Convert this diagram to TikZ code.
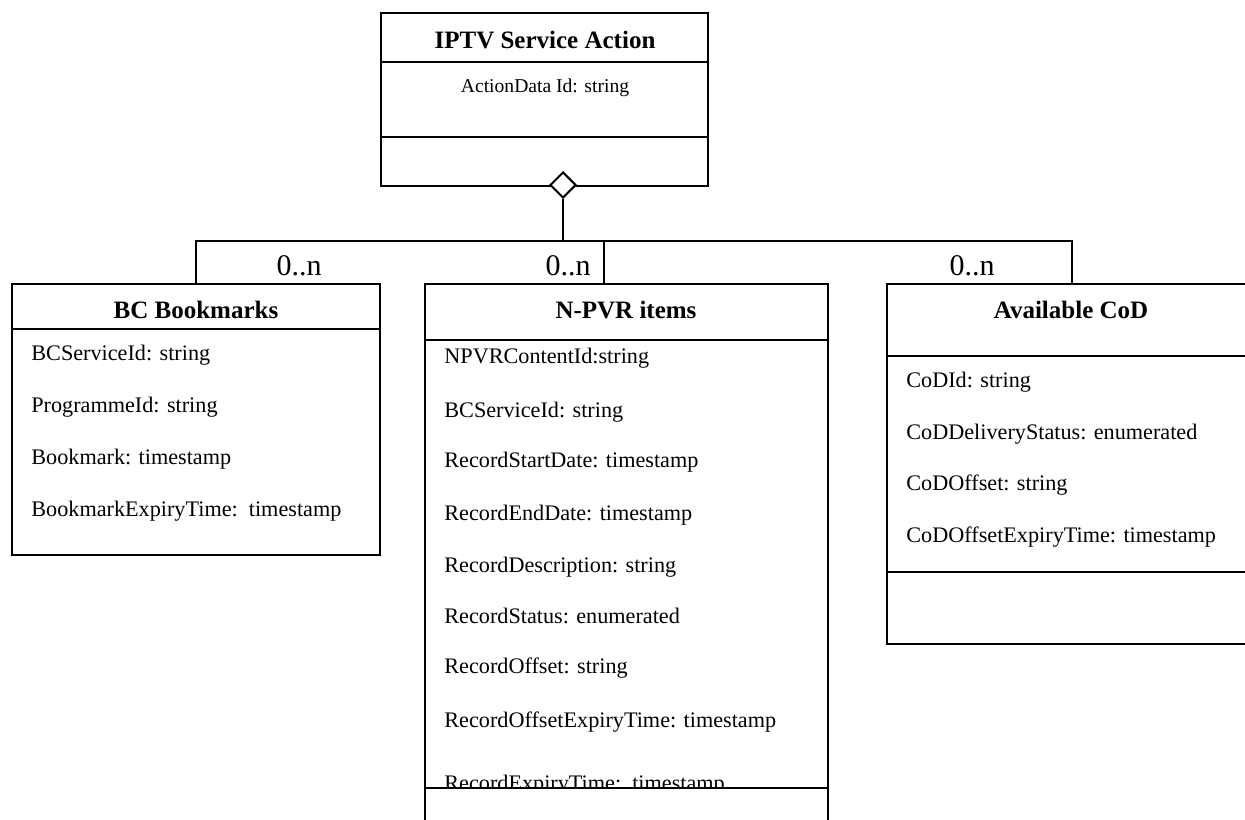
\documentclass[tikz,border=0pt]{standalone}
\usepackage{fontspec}
\setmainfont{Liberation Serif}
\usetikzlibrary{positioning,shapes.geometric}
\newdimen\px \px=0.5pt

\begin{document}
\begin{tikzpicture}[
    x=0.5pt, y=-0.5pt,
    box/.style={draw, line width=1pt, inner sep=0pt, outer sep=0pt, anchor=north west},
    sep/.style={line width=1pt},
    title/.style={font=\fontsize{12.5}{15}\selectfont\bfseries, anchor=base, inner sep=0pt},
    attr/.style={font=\fontsize{11.1}{13}\selectfont, anchor=base west, inner sep=0pt},
    mult/.style={font=\fontsize{15}{18}\selectfont, anchor=base, inner sep=0pt},
    agg/.style={diamond, draw, fill=white, line width=1pt, inner sep=0pt,
                minimum width=26\px, minimum height=26\px},
    link/.style={line width=0.9pt},
  ]
    \clip (0,0) rectangle (1245,819);

    % the aggregate class
    \node[box, minimum width=327\px, minimum height=173\px] (act) at (381,13) {};
    \draw[sep] (act.west |- 0,62) -- (act.east |- 0,62);
    \draw[sep] (act.west |- 0,137) -- (act.east |- 0,137);
    \node[title] (act-t) at (545,48) {IPTV Service Action};
    \node[font=\fontsize{9.8}{12}\selectfont, anchor=base, inner sep=0pt] (act-a) at (545,92) {ActionData Id: string};

    % the three part classes
    \node[box, minimum width=368\px, minimum height=271\px] (bcb) at (12,284) {};
    \node[box, minimum width=403\px, minimum height=580\px] (npvr) at (425,284) {};
    \node[box, minimum width=380\px, minimum height=360\px] (cod) at (887,284) {};

    \draw[sep] (bcb.west |- 0,329) -- (bcb.east |- 0,329);
    \draw[sep] (npvr.west |- 0,340) -- (npvr.east |- 0,340);
    \draw[sep] (cod.west |- 0,356) -- (cod.east |- 0,356);
    \draw[sep] (cod.west |- 0,572) -- (cod.east |- 0,572);

    \node[title] (bcb-t) at (196,318) {BC Bookmarks};
    \node[title] (npvr-t) at (626,318) {N-PVR items};
    \node[title] (cod-t) at (1071,318) {Available CoD};

    \foreach \y/\txt [count=\i] in {360/BCServiceId: string, 412/ProgrammeId: string,
        464/Bookmark: timestamp, 516/BookmarkExpiryTime:\ \ timestamp}
      \node[attr] (bcb-\i) at (31,\y) {\txt};

    \foreach \y/\txt [count=\i] in {363/NPVRContentId:string, 417/BCServiceId: string,
        467/RecordStartDate: timestamp, 520/RecordEndDate: timestamp,
        572/RecordDescription: string, 623/RecordStatus: enumerated,
        673/RecordOffset: string, 727/RecordOffsetExpiryTime: timestamp,
        790/RecordExpiryTime:\ \ timestamp}
      \node[attr] (npvr-\i) at (444,\y) {\txt};

    \foreach \y/\txt [count=\i] in {387/CoDId: string, 439/CoDDeliveryStatus: enumerated,
        490/CoDOffset: string, 542/CoDOffsetExpiryTime: timestamp}
      \node[attr] (cod-\i) at (906,\y) {\txt};

    % operations compartment of N-PVR items covers the last line
    \fill[white] (npvr.west |- 0,788) rectangle (npvr.south east);
    \draw[sep] (npvr.west |- 0,788) -- (npvr.east |- 0,788);
    \draw[sep] (npvr.north west) -- (npvr.south west) (npvr.north east) -- (npvr.south east);

    % aggregation
    \node[agg] (agg) at (563,185) {};
    \coordinate (hub) at (563,241);
    \coordinate (bcb-in) at (196,284);
    \coordinate (npvr-in) at (604,284);
    \coordinate (cod-in) at (1072,284);
    \draw[link] (agg.south) -- (hub);
    \draw[link] (hub) -| (bcb-in);
    \draw[link] (hub) -| (npvr-in);
    \draw[link] (hub) -| (cod-in);

    \node[mult] (m-bcb) at (299,275) {0..n};
    \node[mult] (m-npvr) at (568,275) {0..n};
    \node[mult] (m-cod) at (972,275) {0..n};
  \end{tikzpicture}
\end{document}
